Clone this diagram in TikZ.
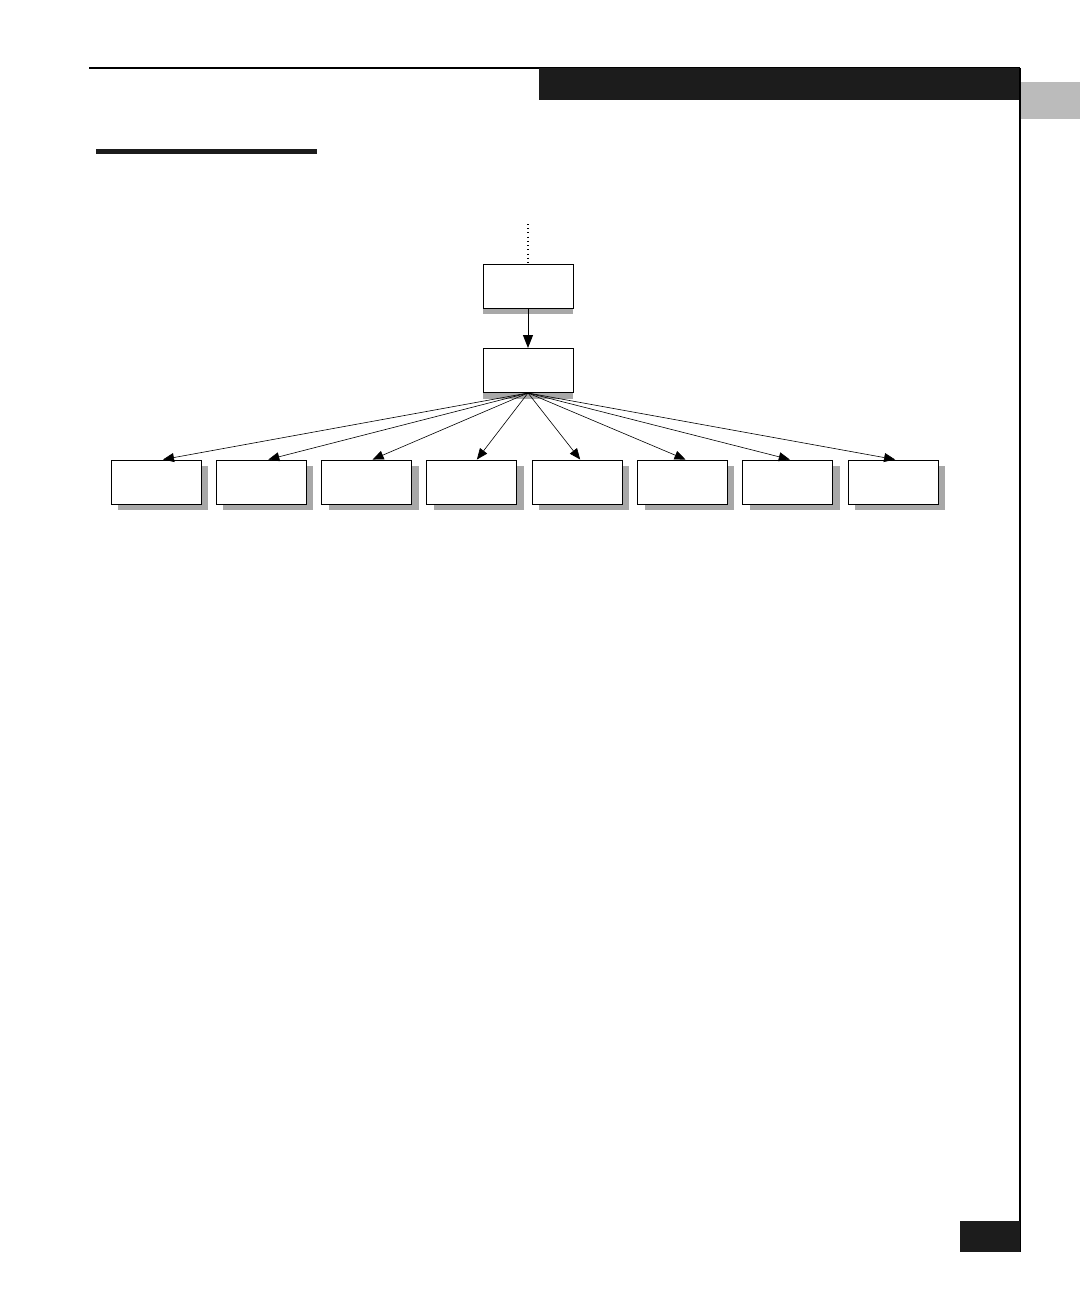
\documentclass[tikz,border=0pt]{standalone}
\usepackage{tikz}
\usetikzlibrary{arrows.meta,shadows}

\definecolor{barblack}{HTML}{1C1C1C}
\definecolor{tabgray}{HTML}{BBBBBB}
\definecolor{shadowgray}{HTML}{A8A8A8}

\begin{document}
\begin{tikzpicture}[x=0.02cm, y=-0.02cm,
  box/.style={draw, fill=white, line width=0.55pt, inner sep=0pt,
    minimum width=1.8cm, minimum height=0.88cm},
  downshadow/.style={drop shadow={shadow xshift=0cm, shadow yshift=-0.12cm,
    fill=shadowgray, opacity=1}},
  sideshadow/.style={drop shadow={shadow xshift=0.14cm, shadow yshift=-0.12cm,
    fill=shadowgray, opacity=1}},
  fan/.style={-{Triangle[length=0.22cm, width=0.18cm]}, line width=0.35pt}]

% --- page frame ---
\useasboundingbox (0,0) rectangle (1080,1296);
\def\rx{1020}  % right rule

\draw[line width=0.9pt] (89,68) -- (\rx,68);
\fill[barblack] (539,68) rectangle (\rx,100);
\fill[tabgray] (1021,82) rectangle (1080,119);
\draw[line width=0.9pt] (\rx,68) -- (\rx,1252);
\fill[barblack] (960,1221) rectangle (\rx,1252);
\fill[barblack] (96,149) rectangle (317,154);

% --- tree ---
\node[box, downshadow] (root) at (528,286) {};
\node[box, downshadow] (hub) at (528,370.5) {};
\coordinate (feed) at (528,224);

\draw[line width=0.6pt, dash pattern=on 0.6pt off 1.8pt] (feed) -- (root.north);
\draw[-{Triangle[length=0.26cm, width=0.2cm]}, line width=0.5pt] (root.south) -- (hub.north);

% Bottom row
\foreach \i/\s in {1/7,2/7,3/6,4/5,5/3,6/3,7/2,8/2} {
  \node[box, sideshadow] (leaf\i) at ({156+(\i-1)*105.3},482) {};
  \draw[fan] (hub.south) -- ([xshift=\s*0.02cm]leaf\i.north);
}

\end{tikzpicture}
\end{document}
